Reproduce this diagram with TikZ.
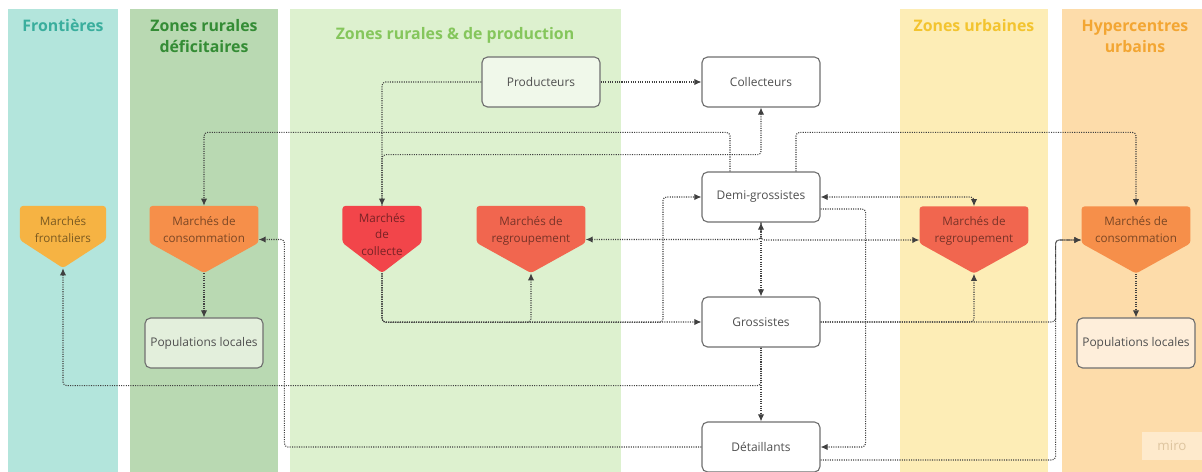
\documentclass[tikz,border=0pt]{standalone}
\usepackage{fontspec}
\setmainfont{Open Sans}
\usepackage{xcolor}
\usepackage{tikz}
\usetikzlibrary{positioning, calc}
\usetikzlibrary{arrows.meta,shapes}

\definecolor{frontband}{HTML}{B3E5DC}
\definecolor{fronttitle}{HTML}{3AAE9D}
\definecolor{deficitband}{HTML}{B9D9B2}
\definecolor{deficittitle}{HTML}{348C35}
\definecolor{prodband}{HTML}{DDF1CF}
\definecolor{prodtitle}{HTML}{85C65C}
\definecolor{urbband}{HTML}{FDEDB6}
\definecolor{urbtitle}{HTML}{F3C42F}
\definecolor{hyperband}{HTML}{FDDCAA}
\definecolor{hypertitle}{HTML}{F3A633}
\definecolor{frontmkt}{HTML}{F6B343}
\definecolor{consomkt}{HTML}{F68F4A}
\definecolor{collectemkt}{HTML}{F2454A}
\definecolor{regroupmkt}{HTML}{F1664F}
\definecolor{boxline}{HTML}{707070}
\definecolor{boxtext}{HTML}{4F4F4F}
\definecolor{prodfill}{HTML}{F0F8EA}
\definecolor{poplfill}{HTML}{E3EFDC}
\definecolor{poprfill}{HTML}{FEEEDA}
\definecolor{edgecol}{HTML}{404040}

\begin{document}
\begin{tikzpicture}
                [
                x=0.025cm, y=-0.025cm,
                title/.style={font=\bfseries\fontsize{11.3}{15}\selectfont,align=center},
                actor/.style={rectangle,rounded corners=4pt,draw=boxline,line width=0.8pt,fill=white,
                  minimum width=2.95cm,minimum height=1.25cm,text=boxtext,font=\fontsize{8.5}{10}\selectfont},
                market/.style={minimum width=2.72cm,minimum height=1.675cm,inner sep=0pt,align=center,
                  text=#1!50!black,font=\fontsize{8.3}{11.8}\selectfont,text depth=14.5pt,
                  path picture={\fill[#1,rounded corners=2pt]
                    (path picture bounding box.north west) -- (path picture bounding box.north east)
                    -- ($(path picture bounding box.north east)!0.55!(path picture bounding box.south east)$)
                    -- (path picture bounding box.south)
                    -- ($(path picture bounding box.north west)!0.55!(path picture bounding box.south west)$)
                    -- cycle;}},
                edge/.style={->,> = {Latex[length=5pt,width=4.5pt]},draw=edgecol,line width=0.75pt,
                  dash pattern=on 0.75pt off 0.9pt,rounded corners=2.5pt}
                ]
            \useasboundingbox (0,0) rectangle (1202,472);
            \fill[white] (0,0) rectangle (1202,472);
            \fill[frontband] (8,9) rectangle (118,472);
            \fill[deficitband] (130,9) rectangle (278,472);
            \fill[prodband] (290,9) rectangle (621,472);
            \fill[urbband] (900,9) rectangle (1048,472);
            \fill[hyperband] (1062,9) rectangle (1202,472);
            \node[title,text=fronttitle] (tfront) at (63,25) {Frontières};
            \node[title,text=deficittitle] (tdeficit) at (204,36) {Zones rurales\\déficitaires};
            \node[title,text=prodtitle] (tprod) at (455,35) {Zones rurales \& de production};
            \node[title,text=urbtitle] (turb) at (974,26) {Zones urbaines};
            \node[title,text=hypertitle] (thyper) at (1135,36) {Hypercentres\\urbains};
            \node[actor,fill=prodfill] (prod) at (541,82) {Producteurs};
            \node[actor] (coll) at (761,82) {Collecteurs};
            \node[actor] (demi) at (761,197) {Demi-grossistes};
            \node[actor] (gros) at (761,322) {Grossistes};
            \node[actor] (det) at (761,447) {Détaillants};
            \node[actor,fill=poplfill] (popL) at (204,343) {Populations locales};
            \node[actor,fill=poprfill] (popR) at (1136,343) {Populations locales};
            \node[market=frontmkt,minimum width=2.15cm,minimum height=1.55cm,text depth=11pt] (front) at (63,237) {Marchés\\frontaliers};
            \node[market=consomkt] (consoL) at (204,239.5) {Marchés de\\consommation};
            \node[market=collectemkt,minimum width=1.975cm,text depth=7.5pt] (collecte) at (382,239.5) {Marchés\\de\\collecte};
            \node[market=regroupmkt] (regL) at (531,239.5) {Marchés de\\regroupement};
            \node[market=regroupmkt] (regR) at (974,240) {Marchés de\\regroupement};
            \node[market=consomkt] (consoR) at (1136,240) {Marchés de\\consommation};
            \node[fill=hyperband!60!white,text=hyperband!75!gray,font=\fontsize{9.5}{10}\selectfont,
              minimum width=1.5cm,minimum height=0.7cm] (logo) at (1172,446) {miro};
            \draw[edge] (prod) -- (coll);
            \draw[edge] (prod.west) -| (collecte.north);
            \draw[edge] (collecte.north) -- ++(0,-51) -| (coll.south);
            \draw[edge] (demi.north) ++(-31,0) -- ++(0,-39) -| (consoL.north);
            \draw[edge] (demi.north) ++(35,0) -- ++(0,-39) -| (consoR.north);
            \draw[edge] (collecte.south) |- (gros.west);
            \draw[edge] (collecte.south) -- ++(0,49) -| (regL.south);
            \draw[edge] (collecte.south) -- ++(0,49) -- ++(281,0) |- (demi.west);
            \draw[edge,<->] (demi) -- (gros);
            \draw[edge] (demi.south) |- (regL.east);
            \draw[edge] (demi.south) |- (regR.west);
            \draw[edge,<->] (demi.east) -| (regR.north);
            \draw[edge] (demi.east) ++(0,12) -- ++(45,0) |- (det.east);
            \draw[edge] (gros.east) -| (regR.south);
            \draw[edge] (gros.east) -- ++(235,0) |- (consoR.west);
            \draw[edge] (det.east) ++(0,13) -- ++(235,0) |- (consoR.west);
            \draw[edge] (det.west) -- ++(-417,0) |- (consoL.east);
            \draw[edge] (gros.south) -- ++(0,38) -| (front.south);
            \draw[edge] (gros) -- (det);
            \draw[edge] (consoL.south) -- (popL);
            \draw[edge] (consoR.south) -- (popR);
            \end{tikzpicture}
\end{document}
